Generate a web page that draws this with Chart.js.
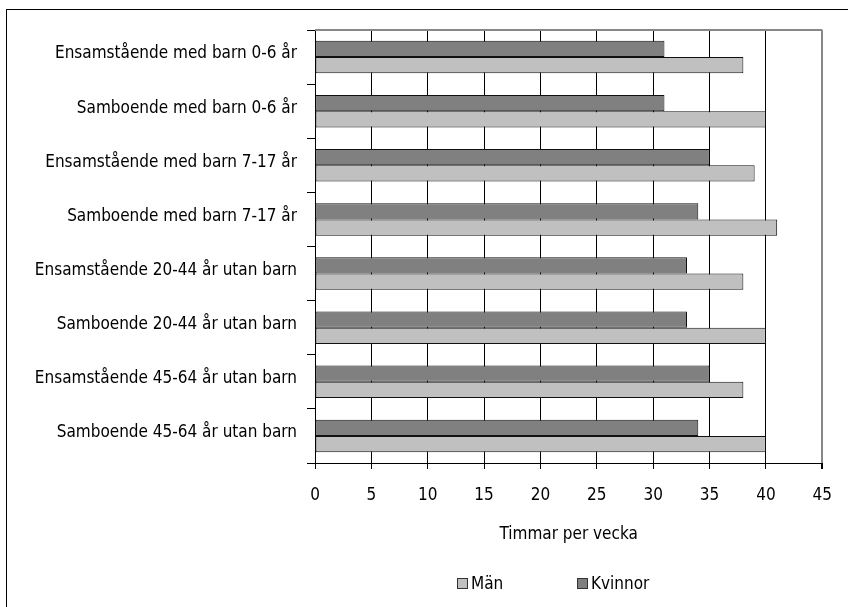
<!DOCTYPE html>
<html>
<head>
<meta charset="utf-8">
<script src="https://cdn.jsdelivr.net/npm/chart.js@4"></script>
<style>
  html, body { margin: 0; padding: 0; background: #fff; }
  #wrap { position: relative; width: 848px; height: 607px; overflow: hidden; }
  #frame { position: absolute; left: 6px; top: 9px; width: 900px; height: 700px; border: 1.5px solid #000; pointer-events: none; box-sizing: border-box; }
  .lg { position: absolute; font-family: 'Liberation Sans Narrow', 'Arial Narrow', 'DejaVu Sans Condensed', sans-serif; font-size: 17px; color: #000; line-height: 20px; }
  .box { position: absolute; width: 11px; height: 11px; box-sizing: border-box; border: 1px solid #333; }
</style>
</head>
<body>
<div id="wrap">
  <canvas id="c" width="848" height="607"></canvas>
  <div id="frame"></div>
  <div class="box" style="left:457px;top:578px;background:#c0c0c0;"></div>
  <div class="lg" id="lgMan" style="left:471px;top:573px;"></div>
  <div class="box" style="left:577px;top:578px;background:#808080;"></div>
  <div class="lg" id="lgKv" style="left:591px;top:573px;"></div>
</div>
<script>
const categories = [
  'Ensamstående med barn 0-6 år',
  'Samboende med barn 0-6 år',
  'Ensamstående med barn 7-17 år',
  'Samboende med barn 7-17 år',
  'Ensamstående 20-44 år utan barn',
  'Samboende 20-44 år utan barn',
  'Ensamstående 45-64 år utan barn',
  'Samboende 45-64 år utan barn'
];
const seriesNames = ['Kvinnor', 'Män'];
const kvinnor = [31, 31, 35, 34, 33, 33, 35, 34];
const man = [38, 40, 39, 41, 38, 40, 38, 40];
const xTickValues = [0, 5, 10, 15, 20, 25, 30, 35, 40, 45];
const axisTitle = 'Timmar per vecka';

document.getElementById('lgMan').textContent = seriesNames[1];
document.getElementById('lgKv').textContent = seriesNames[0];

const FONT = "'Liberation Sans Narrow', 'Arial Narrow', 'DejaVu Sans Condensed', sans-serif";
Chart.defaults.font.family = FONT;
Chart.defaults.font.size = 17;
Chart.defaults.color = '#000';

const plotBorder = {
  id: 'plotBorder',
  beforeDatasetsDraw(chart) {
    const a = chart.chartArea, ctx = chart.ctx;
    ctx.save();
    ctx.strokeStyle = '#888';
    ctx.lineWidth = 2;
    ctx.beginPath();
    ctx.moveTo(a.left, a.top);
    ctx.lineTo(a.right, a.top);
    ctx.stroke();
    ctx.restore();
  }
};

new Chart(document.getElementById('c'), {
  type: 'bar',
  data: {
    labels: categories,
    datasets: [
      { label: seriesNames[0], data: kvinnor, backgroundColor: '#808080', borderColor: '#111', borderWidth: 1, borderSkipped: false, categoryPercentage: 0.6, barPercentage: 1.0 },
      { label: seriesNames[1], data: man, backgroundColor: '#c0c0c0', borderColor: '#111', borderWidth: 1, borderSkipped: false, categoryPercentage: 0.6, barPercentage: 1.0 }
    ]
  },
  options: {
    indexAxis: 'y',
    responsive: false,
    animation: false,
    layout: { padding: { top: 30, right: 25, left: 0, bottom: 0 } },
    plugins: { legend: { display: false }, tooltip: { enabled: false } },
    scales: {
      x: {
        min: xTickValues[0],
        max: xTickValues[xTickValues.length - 1],
        afterBuildTicks: s => { s.ticks = xTickValues.map(v => ({ value: v })); },
        ticks: { color: '#000', padding: 16, font: { size: 17 } },
        grid: {
          color: c => (c.tick && c.tick.value === 45) ? '#888' : '#000',
          lineWidth: c => (c.tick && c.tick.value === 45) ? 2 : 1,
          tickColor: '#000',
          tickLength: 6
        },
        border: { display: true, color: '#000', width: 1 },
        title: { display: true, text: axisTitle, color: '#000', font: { size: 17 }, padding: { top: 0, bottom: 62 } },
        afterFit: s => { s.height = 144; }
      },
      y: {
        grid: { drawOnChartArea: false, offset: true, tickLength: 8, color: '#000' },
        border: { display: true, color: '#000', width: 1 },
        ticks: { color: '#000', padding: 10, font: { size: 17 }, autoSkip: false, labelOffset: -3 },
        afterFit: s => { s.width = 315; }
      }
    }
  },
  plugins: [plotBorder]
});
</script>
</body>
</html>
